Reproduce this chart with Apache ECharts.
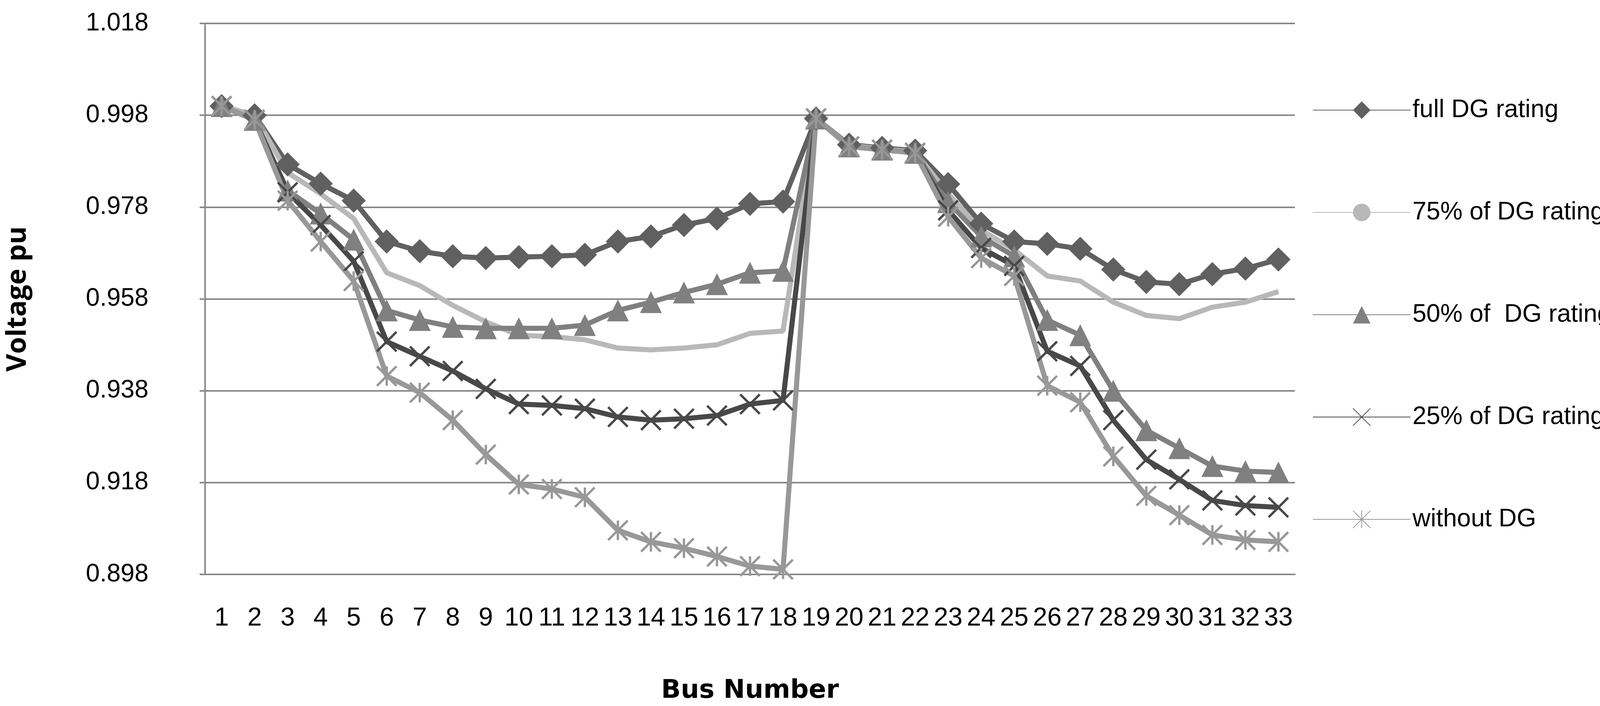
<!DOCTYPE html>
<html>
<head>
<meta charset="utf-8">
<script src="https://cdn.jsdelivr.net/npm/echarts@6/dist/echarts.min.js"></script>
<style>html,body{margin:0;padding:0;background:#fff}#chart{width:4226px;height:1808px}</style>
</head>
<body>
<div id="chart"></div>
<script>
const buses = ['1','2','3','4','5','6','7','8','9','10','11','12','13','14','15','16','17','18','19','20','21','22','23','24','25','26','27','28','29','30','31','32','33'];

const fullDG = [1.000,0.998,0.9873,0.9831,0.9794,0.9705,0.9684,0.9673,0.9669,0.9671,0.9673,0.9676,0.9705,0.9716,0.9741,0.9755,0.9787,0.9792,
  0.9973,0.9916,0.9909,0.9903,0.9830,0.9744,0.9705,0.9700,0.9689,0.9644,0.9617,0.9612,0.9634,0.9646,0.9666];
const dg75 = [1.000,0.998,0.9855,0.9809,0.9755,0.9637,0.9609,0.9566,0.9530,0.9501,0.9498,0.9491,0.9473,0.9469,0.9473,0.9480,0.9505,0.9510,
  0.9973,0.9914,0.9907,0.9900,0.9809,0.9730,0.9687,0.9630,0.9619,0.9573,0.9544,0.9537,0.9562,0.9573,0.9596];
const dg50 = [1.000,0.997,0.9816,0.9766,0.9709,0.9555,0.9534,0.9519,0.9516,0.9516,0.9516,0.9523,0.9555,0.9573,0.9594,0.9612,0.9637,0.9641,
  0.9973,0.9912,0.9905,0.9898,0.9791,0.9716,0.9673,0.9534,0.9501,0.9380,0.9294,0.9255,0.9216,0.9205,0.9202];
const dg25 = [1.000,0.997,0.9812,0.9741,0.9662,0.9487,0.9455,0.9423,0.9384,0.9351,0.9348,0.9341,0.9323,0.9316,0.9319,0.9326,0.9351,0.9359,
  0.9973,0.9912,0.9905,0.9898,0.9773,0.9691,0.9652,0.9466,0.9434,0.9316,0.9230,0.9187,0.9141,0.9130,0.9126];
const noDG = [1.000,0.997,0.9794,0.9705,0.9619,0.9412,0.9376,0.9316,0.9241,0.9176,0.9166,0.9148,0.9076,0.9051,0.9037,0.9019,0.8998,0.8991,
  0.9973,0.9912,0.9905,0.9898,0.9759,0.9669,0.9630,0.9391,0.9355,0.9237,0.9151,0.9109,0.9066,0.9055,0.9051];

const yMin = 0.898, yMax = 1.018, yStep = 0.02;

const chart = echarts.init(document.getElementById('chart'));

function line(name, data, color, symbol, size) {
  return {
    name: name, type: 'line', data: data, yAxisIndex: 0,
    symbol: symbol, symbolSize: size, showSymbol: size > 0,
    lineStyle: { color: color, width: 13 },
    itemStyle: { color: color },
    emphasis: { disabled: true },
    animation: false
  };
}

// cross / star markers
const crossPath = 'path://M0,0 L10,10 M10,0 L0,10';
const starPath = 'path://M0,0 L10,10 M10,0 L0,10 M5,0 L5,10';

chart.setOption({
  backgroundColor: '#fff',
  textStyle: { fontFamily: 'Liberation Sans, Arial, sans-serif' },
  grid: { left: 525, right: 911, top: 60, bottom: 304 },
  legend: {
    orient: 'vertical',
    left: 3355, top: 245,
    itemWidth: 250, itemHeight: 56, itemGap: 198,
    textStyle: { fontSize: 64, color: '#000' },
    data: ['full DG rating', '75% of DG rating', '50% of  DG rating', '25% of DG rating', 'without DG']
  },
  xAxis: {
    type: 'category', data: buses, boundaryGap: true,
    name: 'Bus Number', nameLocation: 'middle', nameGap: 266,
    nameTextStyle: { fontSize: 66, fontWeight: 900, fontFamily: 'DejaVu Sans', color: '#000' },
    axisLine: { lineStyle: { color: '#888', width: 4 } },
    axisTick: { show: false },
    axisLabel: { fontSize: 66, color: '#000', margin: 80, interval: 0 }
  },
  yAxis: [
    { type: 'value', min: yMin, max: yMax, show: false },
    {
      type: 'value', min: 0, max: yMax - yMin, interval: yStep, position: 'left',
      name: 'Voltage pu', nameLocation: 'middle', nameGap: 444, nameRotate: 90,
      nameTextStyle: { fontSize: 70, fontWeight: 'bold', fontFamily: 'Open Sans', color: '#000' },
      axisLine: { show: true, lineStyle: { color: '#888', width: 4 } },
      axisTick: { show: true, length: 14, lineStyle: { color: '#888', width: 4 } },
      splitLine: { lineStyle: { color: '#888', width: 4 } },
      axisLabel: { fontSize: 64, color: '#000', margin: 145, align: 'right', formatter: v => (v + yMin).toFixed(3) }
    }
  ],
  series: [
    line('full DG rating', fullDG, '#606060', 'diamond', 62),
    line('75% of DG rating', dg75, '#b8b8b8', 'circle', 0),
    line('50% of  DG rating', dg50, '#808080', 'triangle', 56),
    line('25% of DG rating', dg25, '#484848', crossPath, 50),
    line('without DG', noDG, '#989898', starPath, 50)
  ].map(s => {
    if (s.symbol.indexOf('path://') === 0) {
      s.itemStyle = { color: 'none', borderColor: s.lineStyle.color, borderWidth: 6 };
    }
    return s;
  })
});
</script>
</body>
</html>
